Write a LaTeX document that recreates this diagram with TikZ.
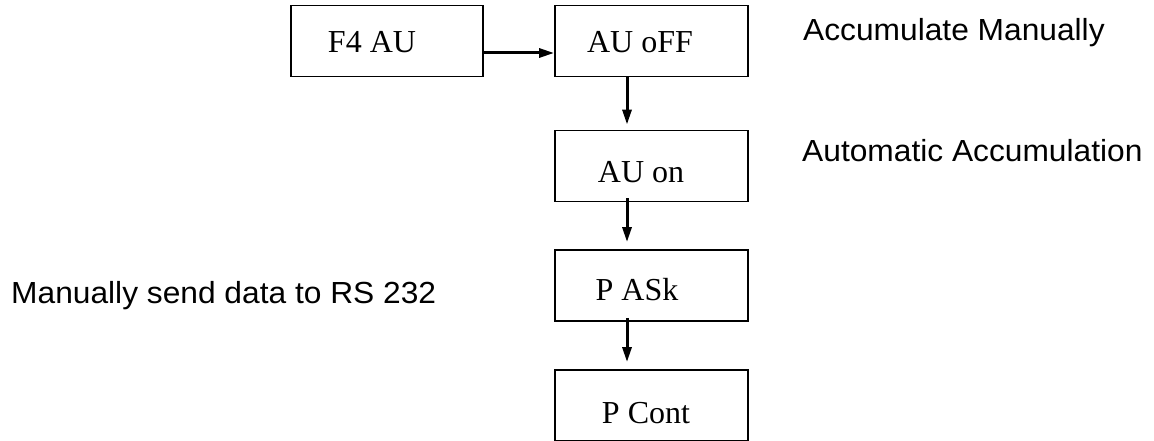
\documentclass[tikz,border=0pt]{standalone}
\usepackage{fontspec}
\setmainfont{Liberation Serif}
\setsansfont{Liberation Sans}
\usetikzlibrary{arrows.meta}

\begin{document}
\begin{tikzpicture}[x=1pt, y=-1pt,
    box/.style={rectangle, draw, line width=1.8pt, minimum width=193pt, minimum height=71pt, inner sep=0pt},
    boxtext/.style={inner sep=0pt, font=\fontsize{32}{32}\selectfont},
    arr/.style={-{Triangle[length=15pt, width=9pt]}, line width=3pt},
    note/.style={anchor=base west, inner sep=0pt, xscale=1.04, font=\sffamily\fontsize{30.5}{30.5}\selectfont}]
    \useasboundingbox (0,0) rectangle (1154,441);

    % ノードの定義
    \node[box, minimum width=192pt, label={[boxtext, xshift=-15pt, yshift=-1.5pt]center:F4 AU}] (A) at (387, 41) {};
    \node[box, label={[boxtext, xshift=-11.5pt, yshift=-1.5pt]center:AU oFF}] (B) at (651.5, 41) {};
    \node[box, label={[boxtext, xshift=-10.5pt, yshift=-6pt]center:AU on}] (C) at (651.5, 166) {};
    \node[box, label={[boxtext, xshift=-14.5pt, yshift=-4.5pt]center:P ASk}] (D) at (651.5, 285.5) {};
    \node[box, label={[boxtext, xshift=-5.5pt, yshift=-7.5pt]center:P Cont}] (E) at (651.5, 405.5) {};

    % 説明の文
    \node[note] (L1) at (803, 41) {Accumulate Manually};
    \node[note] (L2) at (802, 161) {Automatic Accumulation};
    \node[note] (L3) at (11, 303) {Manually send data to RS 232};

    % 矢印を引く
    \draw[arr] (A.east |- 0,53) -- (B.west |- 0,53);
    \draw[arr, shorten >=5pt] (B.south -| 627,0) -- (C.north -| 627,0);
    \draw[arr, shorten <=-4pt, shorten >=7pt] (C.south -| 627,0) -- (D.north -| 627,0);
    \draw[arr, shorten <=-4pt, shorten >=7pt] (D.south -| 627,0) -- (E.north -| 627,0);

\end{tikzpicture}
\end{document}
